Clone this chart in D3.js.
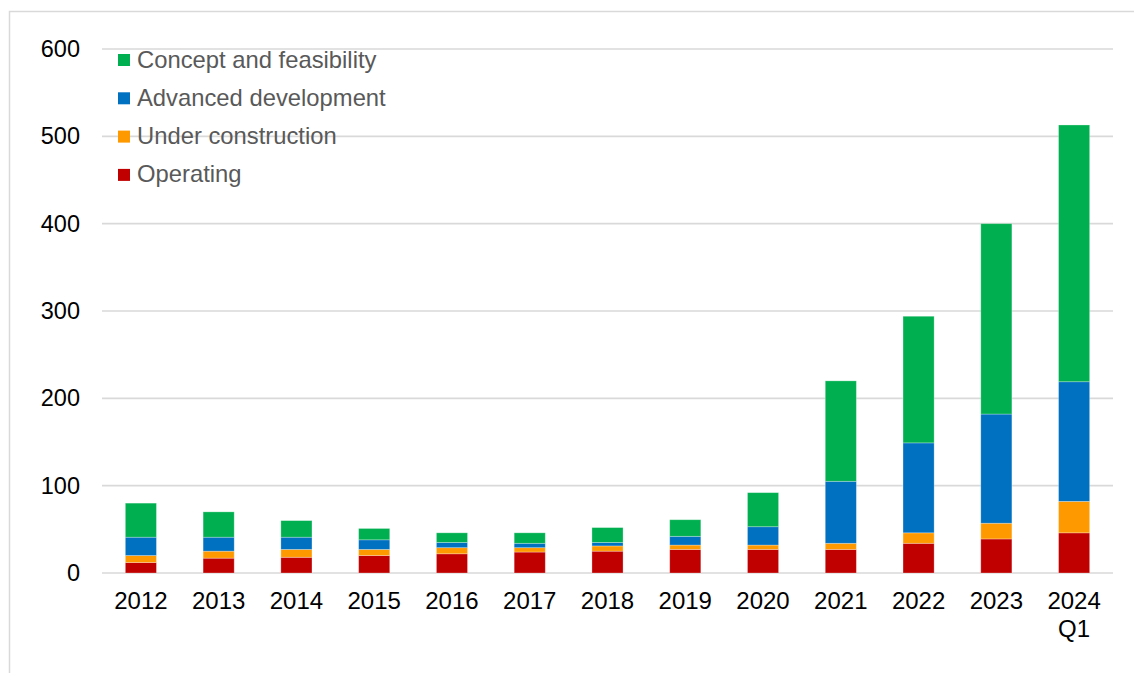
<!DOCTYPE html>
<html>
<head>
<meta charset="utf-8">
<script src="https://cdn.jsdelivr.net/npm/d3@7/dist/d3.min.js"></script>
<style>
  html, body { margin: 0; padding: 0; background: #fff; }
  svg { display: block; font-family: "Liberation Sans", Arial, sans-serif; }
</style>
</head>
<body>
<svg id="chart" width="1134" height="673"></svg>
<script>
// Categories (x axis) and stacked series values
const categories = ["2012","2013","2014","2015","2016","2017","2018","2019","2020","2021","2022","2023","2024 Q1"];
const operating         = [12, 17, 18, 20, 22, 24, 25, 27, 27, 27, 34, 39, 46];
const underConstruction = [ 8,  8,  9,  7,  7,  5,  6,  5,  5,  7, 12, 18, 36];
const advancedDev       = [21, 16, 14, 11,  6,  5,  4, 10, 21, 71,103,125,137];
const conceptFeas       = [39, 29, 19, 13, 11, 12, 17, 19, 39,115,145,218,294];
const yTicks = [0, 100, 200, 300, 400, 500, 600];

const seriesDefs = [
  { key: "operating", name: "Operating",               values: operating,         color: "#C00000" },
  { key: "under",     name: "Under construction",      values: underConstruction, color: "#FF9900" },
  { key: "advanced",  name: "Advanced development",    values: advancedDev,       color: "#0070C0" },
  { key: "concept",   name: "Concept and feasibility", values: conceptFeas,       color: "#00B050" }
];

const rows = categories.map((c, i) => {
  const r = { cat: c };
  seriesDefs.forEach(s => r[s.key] = s.values[i]);
  return r;
});

const svg = d3.select("#chart");
const W = 1134, H = 673;
const m = { left: 102, right: 21, top: 49, bottom: 100 };
const plotW = W - m.left - m.right;   // 1011
const plotH = H - m.top - m.bottom;   // 524

// Outer frame (top and left edges visible)
svg.append("path")
  .attr("d", `M9.5,${H} L9.5,11.5 L${W},11.5`)
  .attr("fill", "none")
  .attr("stroke", "#d9d9d9")
  .attr("stroke-width", 1.5);

const g = svg.append("g").attr("transform", `translate(${m.left},${m.top})`);

const x = d3.scaleBand().domain(categories).range([0, plotW]).paddingInner(0.6).paddingOuter(0.3);
const y = d3.scaleLinear().domain([0, 600]).range([plotH, 0]);

// Gridlines
g.append("g")
  .selectAll("line")
  .data(yTicks)
  .join("line")
  .attr("x1", 0).attr("x2", plotW)
  .attr("y1", d => y(d)).attr("y2", d => y(d))
  .attr("stroke", "#d9d9d9")
  .attr("stroke-width", 1.6);

// Y axis labels
const yAxis = d3.axisLeft(y).tickValues(yTicks).tickSize(0).tickPadding(22);
const yg = g.append("g").call(yAxis);
yg.select(".domain").remove();
yg.selectAll("text")
  .attr("font-size", 23.5)
  .attr("font-family", "Liberation Sans, Arial, sans-serif")
  .attr("fill", "#000");

// Stacked bars
const stack = d3.stack().keys(seriesDefs.map(s => s.key));
const stacked = stack(rows);
const colorOf = Object.fromEntries(seriesDefs.map(s => [s.key, s.color]));

g.append("g")
  .selectAll("g")
  .data(stacked)
  .join("g")
  .attr("fill", d => colorOf[d.key])
  .selectAll("rect")
  .data(d => d)
  .join("rect")
  .attr("x", d => x(d.data.cat))
  .attr("width", x.bandwidth())
  .attr("y", d => y(d[1]))
  .attr("height", d => y(d[0]) - y(d[1]))
  .attr("stroke", "#ffffff")
  .attr("stroke-opacity", 0.35)
  .attr("stroke-width", 0.8);

// X axis labels (multi-line for the last category)
const xg = g.append("g").attr("transform", `translate(0,${plotH})`);
categories.forEach(c => {
  const lines = c.split(" ");
  const t = xg.append("text")
    .attr("x", x(c) + x.bandwidth() / 2)
    .attr("y", 36)
    .attr("text-anchor", "middle")
    .attr("font-size", 24)
    .attr("fill", "#000");
  lines.forEach((ln, i) => {
    t.append("tspan")
      .attr("x", x(c) + x.bandwidth() / 2)
      .attr("dy", i === 0 ? 0 : 27.5)
      .text(ln);
  });
});

// Legend (top-left inside plot)
const legendOrder = seriesDefs.slice().reverse();
const lg = svg.append("g").attr("transform", "translate(118,0)");
legendOrder.forEach((s, i) => {
  const cy = 60 + i * 38.3;
  lg.append("rect")
    .attr("x", 0).attr("y", cy - 6)
    .attr("width", 12).attr("height", 12)
    .attr("fill", s.color);
  lg.append("text")
    .attr("x", 19).attr("y", cy + 7.5)
    .attr("font-size", 23.8)
    .attr("fill", "#595959")
    .text(s.name);
});
</script>
</body>
</html>
